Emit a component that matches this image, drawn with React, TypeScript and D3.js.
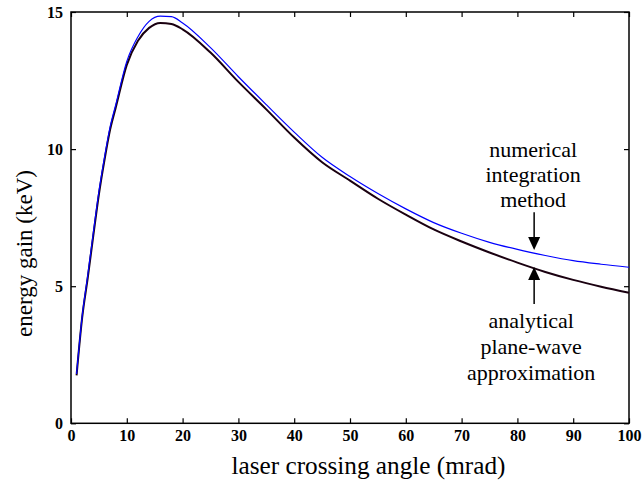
import React, { useEffect, useRef } from 'react';
import * as d3 from 'd3';

// crossing angle (mrad)
const angle = [1, 2, 3, 4, 5, 6, 7, 8, 10, 12, 14, 16, 18, 20, 25, 30, 35, 40, 45, 50, 55, 60, 65, 70, 75, 80, 85, 90, 95, 100];
// analytical plane-wave approximation (keV)
const analytical = [1.75, 3.85, 5.3, 6.85, 8.35, 9.6, 10.7, 11.5, 13.07, 13.95, 14.42, 14.6, 14.56, 14.37, 13.52, 12.45, 11.45, 10.42, 9.52, 8.85, 8.19, 7.61, 7.07, 6.63, 6.23, 5.86, 5.52, 5.23, 4.98, 4.76];
// numerical integration method (keV)
const numerical = [1.8, 3.9, 5.4, 6.95, 8.45, 9.7, 10.8, 11.6, 13.2, 14.1, 14.66, 14.85, 14.83, 14.6, 13.7, 12.64, 11.62, 10.62, 9.7, 9.0, 8.38, 7.82, 7.32, 6.93, 6.6, 6.34, 6.12, 5.93, 5.8, 5.69];

const xTicks = [0, 10, 20, 30, 40, 50, 60, 70, 80, 90, 100];
const yTicks = [0, 5, 10, 15];

const topLabel = ['numerical', 'integration', 'method'];
const bottomLabel = ['analytical', 'plane-wave', 'approximation'];
// arrow position in data units
const arrowAt = 83;
const downArrow = { from: 7.7, to: 6.32 };
const upArrow = { from: 4.35, to: 5.7 };

const FONT = "'Liberation Serif', 'Times New Roman', serif";

const App = () => {
    const svgRef = useRef<SVGSVGElement>(null);
    const width = 644;
    const height = 484;

    useEffect(() => {
        const svg = d3.select(svgRef.current);
        svg.selectAll('*').remove();

        const margin = { top: 12, right: 15, bottom: 60.7, left: 71 };
        const innerWidth = width - margin.left - margin.right;
        const innerHeight = height - margin.top - margin.bottom;

        const g = svg.append('g')
            .attr('transform', `translate(${margin.left},${margin.top})`);

        const x = d3.scaleLinear().domain([0, 100]).range([0, innerWidth]);
        const y = d3.scaleLinear().domain([0, 15]).range([innerHeight, 0]);

        // axes with inward ticks on all four sides
        const styleAxis = (sel: any) => {
            sel.select('.domain').remove();
            sel.selectAll('line').attr('stroke', '#000').attr('stroke-width', 1.2);
            sel.selectAll('text')
                .attr('fill', '#000')
                .style('font-family', FONT)
                .style('font-size', '16px')
                .style('font-weight', 'bold');
        };

        g.append('g')
            .attr('transform', `translate(0,${innerHeight})`)
            .call(d3.axisBottom(x).tickValues(xTicks).tickSize(-5).tickPadding(6))
            .call(styleAxis);
        g.append('g')
            .call(d3.axisLeft(y).tickValues(yTicks).tickSize(-5).tickPadding(8))
            .call(styleAxis);
        g.append('g')
            .call(d3.axisTop(x).tickValues(xTicks).tickSize(-5).tickFormat(() => ''))
            .call(styleAxis);
        g.append('g')
            .attr('transform', `translate(${innerWidth},0)`)
            .call(d3.axisRight(y).tickValues(yTicks).tickSize(-5).tickFormat(() => ''))
            .call(styleAxis);

        // frame
        g.append('rect')
            .attr('width', innerWidth)
            .attr('height', innerHeight)
            .attr('fill', 'none')
            .attr('stroke', '#000')
            .attr('stroke-width', 1.5);

        const line = (vals: number[]) => d3.line<number>()
            .x((_, i) => x(angle[i]))
            .y(d => y(d))
            .curve(d3.curveMonotoneX)(vals);

        g.append('path')
            .attr('d', line(analytical))
            .attr('fill', 'none')
            .attr('stroke', '#1a0010')
            .attr('stroke-width', 2);

        g.append('path')
            .attr('d', line(numerical))
            .attr('fill', 'none')
            .attr('stroke', '#0000ff')
            .attr('stroke-width', 1.2);

        // arrows
        const ax = x(arrowAt);
        const head = 13;
        const drawArrow = (a: { from: number; to: number }) => {
            const y0 = y(a.from);
            const y1 = y(a.to);
            const dir = y1 > y0 ? 1 : -1;
            g.append('line')
                .attr('x1', ax).attr('x2', ax)
                .attr('y1', y0).attr('y2', y1 - dir * head)
                .attr('stroke', '#000').attr('stroke-width', 1.5);
            g.append('path')
                .attr('d', `M${ax - 6},${y1 - dir * head}L${ax + 6},${y1 - dir * head}L${ax},${y1}Z`)
                .attr('fill', '#000');
        };
        drawArrow(downArrow);
        drawArrow(upArrow);

        const labelStyle = (t: any) => t
            .attr('text-anchor', 'middle')
            .attr('fill', '#000')
            .style('font-family', FONT)
            .style('font-size', '22px');

        topLabel.forEach((s, i) => {
            g.append('text')
                .attr('x', ax - 1)
                .attr('y', y(downArrow.from) - 5.5 - (topLabel.length - 1 - i) * 25)
                .text(s)
                .call(labelStyle);
        });
        bottomLabel.forEach((s, i) => {
            g.append('text')
                .attr('x', ax - 3)
                .attr('y', y(upArrow.from) + 24 + i * 26)
                .text(s)
                .call(labelStyle);
        });

        // axis titles
        svg.append('text')
            .attr('x', 368.5)
            .attr('y', 474)
            .attr('text-anchor', 'middle')
            .attr('textLength', 274)
            .attr('lengthAdjust', 'spacingAndGlyphs')
            .style('font-family', FONT)
            .style('font-size', '25px')
            .text('laser crossing angle (mrad)');

        svg.append('text')
            .attr('transform', 'translate(32,253.5) rotate(-90)')
            .attr('text-anchor', 'middle')
            .attr('textLength', 167)
            .attr('lengthAdjust', 'spacingAndGlyphs')
            .style('font-family', FONT)
            .style('font-size', '24px')
            .text('energy gain (keV)');
    }, []);

    return (
        <svg ref={svgRef} width={width} height={height}
            style={{ position: 'absolute', left: 0, top: 0, background: '#fff' }} />
    );
};

export default App;
